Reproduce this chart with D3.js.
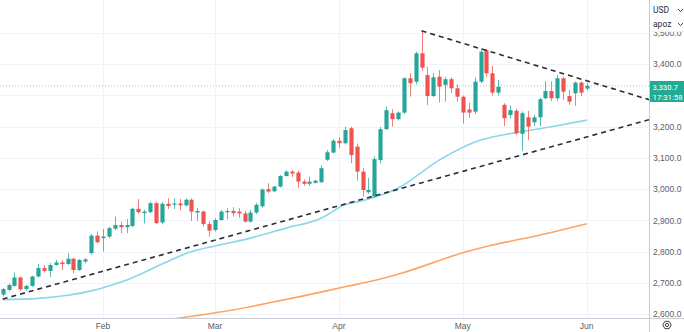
<!DOCTYPE html>
<html>
<head>
<meta charset="utf-8">
<script src="https://cdn.jsdelivr.net/npm/d3@7"></script>
<style>
  html, body { margin: 0; padding: 0; background: #ffffff; }
  svg { display: block; font-family: Roboto, "Liberation Sans", Arial, sans-serif; }
</style>
</head>
<body>
<svg id="chart" width="684" height="332"></svg>
<script>
// Daily sessions, 8 Jan – 2 Jun 2025
const dates = [
  "2025-01-08","2025-01-09","2025-01-10","2025-01-13","2025-01-14","2025-01-15","2025-01-16","2025-01-17",
  "2025-01-21","2025-01-22","2025-01-23","2025-01-24","2025-01-27","2025-01-28","2025-01-29","2025-01-30","2025-01-31",
  "2025-02-03","2025-02-04","2025-02-05","2025-02-06","2025-02-07","2025-02-10","2025-02-11","2025-02-12","2025-02-13",
  "2025-02-14","2025-02-18","2025-02-19","2025-02-20","2025-02-21","2025-02-24","2025-02-25","2025-02-26","2025-02-27","2025-02-28",
  "2025-03-03","2025-03-04","2025-03-05","2025-03-06","2025-03-07","2025-03-10","2025-03-11","2025-03-12","2025-03-13","2025-03-14",
  "2025-03-17","2025-03-18","2025-03-19","2025-03-20","2025-03-21","2025-03-24","2025-03-25","2025-03-26","2025-03-27","2025-03-28","2025-03-31",
  "2025-04-01","2025-04-02","2025-04-03","2025-04-04","2025-04-07","2025-04-08","2025-04-09","2025-04-10","2025-04-11",
  "2025-04-14","2025-04-15","2025-04-16","2025-04-17","2025-04-21","2025-04-22","2025-04-23","2025-04-24","2025-04-25",
  "2025-04-28","2025-04-29","2025-04-30",
  "2025-05-01","2025-05-02","2025-05-05","2025-05-06","2025-05-07","2025-05-08","2025-05-09","2025-05-12","2025-05-13",
  "2025-05-14","2025-05-15","2025-05-16","2025-05-19","2025-05-20","2025-05-21","2025-05-22","2025-05-23",
  "2025-05-27","2025-05-28","2025-05-29","2025-05-30",
  "2025-06-02"
];

const open = [
  2662,2677,2690,2717,2680,2690,2720,2747,2738,2757,2765,2760,2777,2741,2768,2795,2851,
  2843,2848,2873,2885,2878,2882,2937,2923,2926,2955,2893,2953,2950,2954,2948,2966,2925,2928,2888,
  2869,2901,2926,2930,2928,2922,2896,2925,2945,3000,2993,3008,3042,3056,3053,3024,3017,3020,3022,3094,3117,
  3155,3147,3195,3136,3056,2990,2976,3093,3192,3243,3224,3245,3355,3344,3435,3365,3298,3360,3334,3352,3323,
  3296,3255,3248,3344,3445,3371,3309,3270,3237,3251,3177,3230,3214,3230,3291,3314,3291,3355,3298,3307,3341,
  3322
];
const high = [
  2684,2697,2733,2720,2693,2723,2761,2757,2763,2773,2773,2795,2780,2776,2779,2856,2864,
  2872,2880,2912,2896,2904,2940,2968,2934,2960,2960,2958,2971,2971,2969,2971,2970,2939,2932,2896,
  2907,2933,2939,2942,2939,2930,2933,2955,3002,3019,3011,3045,3060,3062,3059,3031,3040,3030,3076,3126,3160,
  3166,3200,3200,3146,3067,3035,3105,3200,3264,3256,3248,3358,3371,3440,3507,3392,3372,3381,3360,3358,3335,
  3300,3277,3358,3450,3448,3395,3350,3275,3268,3257,3249,3251,3238,3293,3345,3345,3366,3360,3318,3345,3345,
  3340
];
const low = [
  2656,2672,2688,2675,2674,2687,2717,2733,2718,2755,2741,2757,2730,2738,2762,2790,2826,
  2800,2842,2868,2859,2859,2878,2922,2890,2923,2888,2887,2936,2936,2932,2944,2898,2898,2880,2848,
  2864,2899,2903,2912,2909,2893,2893,2920,2940,2987,2990,3005,3040,3038,3003,3011,3010,3018,3020,3090,3115,
  3131,3143,3083,3027,2976,2985,2972,3082,3190,3200,3220,3240,3296,3335,3378,3269,3295,3277,3280,3308,3280,
  3210,3228,3240,3340,3360,3300,3300,3202,3226,3173,3123,3157,3202,3202,3288,3282,3282,3285,3270,3267,3297,
  3316
];
const close = [
  2680,2693,2717,2679,2690,2720,2747,2738,2757,2765,2760,2777,2741,2773,2775,2851,2830,
  2848,2875,2885,2878,2885,2937,2926,2928,2955,2891,2953,2946,2954,2948,2966,2928,2930,2888,2867,
  2901,2928,2930,2923,2922,2896,2925,2950,2999,2992,3008,3042,3056,3050,3024,3017,3024,3027,3067,3118,3155,
  3147,3189,3109,3056,2997,2997,3096,3192,3253,3224,3245,3355,3339,3435,3389,3298,3358,3328,3352,3323,3296,
  3245,3245,3344,3440,3371,3309,3328,3227,3253,3179,3243,3200,3230,3288,3314,3291,3355,3312,3280,3341,3309,
  3330.7
];

// Moving averages, read at selected sessions
const smaFastDates  = ["2025-01-08","2025-01-16","2025-01-24","2025-01-30","2025-02-04","2025-02-10","2025-02-18","2025-02-25","2025-03-03","2025-03-11","2025-03-19","2025-03-27","2025-04-02","2025-04-07","2025-04-15","2025-04-25","2025-05-06","2025-05-14","2025-05-22","2025-06-02"];
const smaFastValues = [2646,2650,2660,2674,2690,2716,2760,2800,2818,2843,2875,2907,2950,2963,3003,3093,3157,3181,3200,3221];
const smaSlowDates  = ["2025-02-20","2025-03-06","2025-03-14","2025-03-24","2025-04-02","2025-04-09","2025-04-16","2025-05-01","2025-05-08","2025-05-16","2025-06-02"];
const smaSlowValues = [2585,2613,2635,2658,2687,2707,2733,2796,2821,2844,2889];

// Trend lines (two anchors each, extended to the right edge)
const supportDates  = ["2025-01-08","2025-06-02"];
const supportPrices = [2648, 3167];
const resistDates   = ["2025-04-22","2025-06-02"];
const resistPrices  = [3507, 3347];

const priceTicks = [2600,2700,2800,2900,3000,3100,3200,3300,3400,3500];
const monthTicks = ["2025-02-03","2025-03-03","2025-04-01","2025-05-01","2025-06-02"];
const lastPrice = 3330.7;
const countdown = "17:31:58";
const currency = "USD";
const unit = "apoz";

// ---- layout ----
const W = 684, H = 332;
const paneRight = 649, paneBottom = 318;
const UP = "#26a69a", DOWN = "#ef5350";
const GRID = "#f0f3fa", AXIS = "#c9ccd3", TEXT = "#5a5d68";

const svg = d3.select("#chart");
svg.append("rect").attr("width", W).attr("height", H).attr("fill", "#fff");

const bars = dates.map((d, i) => ({ d, o: open[i], h: high[i], l: low[i], c: close[i] }));
const idx = new Map(dates.map((d, i) => [d, i]));

const x = d3.scaleBand().domain(dates).range([-0.25, 589.65]).paddingInner(0).paddingOuter(0);
const cx = d => x(d) + x.bandwidth() / 2;
const xi = d3.scaleLinear().domain([0, dates.length - 1]).range([cx(dates[0]), cx(dates[dates.length - 1])]);
const y = d3.scaleLinear().domain([2600, 3500]).range([314, 33]);

svg.append("defs").append("clipPath").attr("id", "pane")
  .append("rect").attr("x", 0).attr("y", 0).attr("width", paneRight).attr("height", paneBottom);

const pane = svg.append("g").attr("clip-path", "url(#pane)");

// grid
pane.append("g").selectAll("line").data(priceTicks).join("line")
  .attr("x1", 0).attr("x2", paneRight)
  .attr("y1", d => Math.round(y(d)) + 0.5).attr("y2", d => Math.round(y(d)) + 0.5)
  .attr("stroke", GRID).attr("stroke-width", 1);
pane.append("g").selectAll("line").data(monthTicks).join("line")
  .attr("x1", d => Math.round(cx(d)) + 0.5).attr("x2", d => Math.round(cx(d)) + 0.5)
  .attr("y1", 0).attr("y2", paneBottom)
  .attr("stroke", GRID).attr("stroke-width", 1);

// last price line
pane.append("line")
  .attr("x1", 0).attr("x2", paneRight)
  .attr("y1", y(lastPrice)).attr("y2", y(lastPrice))
  .attr("stroke", UP).attr("stroke-opacity", 0.55).attr("stroke-width", 1).attr("stroke-dasharray", "1,2");

// moving averages
const maLine = d3.line().x(p => xi(idx.get(p[0]))).y(p => y(p[1])).curve(d3.curveMonotoneX);
pane.append("path").datum(d3.zip(smaSlowDates, smaSlowValues))
  .attr("d", maLine).attr("fill", "none").attr("stroke", "#ffa463").attr("stroke-width", 1.6);
pane.append("path").datum(d3.zip(smaFastDates, smaFastValues))
  .attr("d", maLine).attr("fill", "none").attr("stroke", "#86d9ea").attr("stroke-width", 1.6);

// candles
const bodyW = Math.max(1, x.bandwidth() * 0.7);
const cg = pane.append("g").selectAll("g").data(bars).join("g");
cg.append("line")
  .attr("x1", b => Math.round(cx(b.d)) + 0.5).attr("x2", b => Math.round(cx(b.d)) + 0.5)
  .attr("y1", b => y(b.h)).attr("y2", b => y(b.l))
  .attr("stroke", b => b.c >= b.o ? UP : DOWN).attr("stroke-opacity", 0.75).attr("stroke-width", 1);
cg.append("rect")
  .attr("x", b => Math.round(cx(b.d)) + 0.5 - bodyW / 2)
  .attr("width", bodyW)
  .attr("y", b => y(Math.max(b.o, b.c)))
  .attr("height", b => Math.max(1, Math.abs(y(b.o) - y(b.c))))
  .attr("fill", b => b.c >= b.o ? UP : DOWN);

// trend lines, extended as rays to the price scale
function ray(ds, ps) {
  const i0 = idx.get(ds[0]), i1 = idx.get(ds[1]);
  const slope = (ps[1] - ps[0]) / (i1 - i0);
  const iEnd = xi.invert(paneRight);
  return [[xi(i0), y(ps[0])], [paneRight, y(ps[0] + slope * (iEnd - i0))]];
}
[[supportDates, supportPrices], [resistDates, resistPrices]].forEach(([ds, ps]) => {
  pane.append("path").datum(ray(ds, ps))
    .attr("d", d3.line())
    .attr("fill", "none").attr("stroke", "#2a2e39").attr("stroke-width", 1.6)
    .attr("stroke-dasharray", "5,4");
});

// ---- axes ----
// labels that would sit under the last-price tag are left out, as the price scale does
const tagTop = Math.round(y(lastPrice)) - 5, tagH = 21;
const visibleTicks = priceTicks.filter(p => y(p) + 4 < tagTop || y(p) - 4 > tagTop + tagH);
const yAxis = d3.axisRight(y).tickValues(visibleTicks).tickFormat(d3.format(",.1f")).tickSize(0).tickPadding(4);
const ya = svg.append("g").attr("transform", `translate(${paneRight},0)`).call(yAxis);
ya.select(".domain").remove();
ya.selectAll("text").attr("fill", TEXT).attr("font-size", 8.5);

const parse = d3.timeParse("%Y-%m-%d");
const xAxis = d3.axisBottom(x).tickValues(monthTicks).tickFormat(d => d3.timeFormat("%b")(parse(d))).tickSize(0).tickPadding(5);
const xa = svg.append("g").attr("transform", `translate(0,${paneBottom})`).call(xAxis);
xa.select(".domain").remove();
xa.selectAll("text").attr("fill", TEXT).attr("font-size", 8.5);

svg.append("line").attr("x1", 0).attr("x2", W).attr("y1", paneBottom + 0.5).attr("y2", paneBottom + 0.5)
  .attr("stroke", AXIS).attr("stroke-width", 1);
svg.append("line").attr("x1", paneRight + 0.5).attr("x2", paneRight + 0.5).attr("y1", 0).attr("y2", H)
  .attr("stroke", AXIS).attr("stroke-width", 1);

// currency / unit selector
const sel = svg.append("g");
sel.append("rect").attr("x", paneRight + 1).attr("y", 0).attr("width", W - paneRight - 1).attr("height", 31)
  .attr("fill", "#fff");
sel.append("line").attr("x1", paneRight + 1).attr("x2", W).attr("y1", 31.5).attr("y2", 31.5).attr("stroke", "#eef0f4");
[[currency, 13], [unit, 27]].forEach(([t, yy]) => {
  sel.append("text").attr("x", 653).attr("y", yy).attr("font-size", 8.5).attr("fill", "#2a2e39").text(t);
  sel.append("path").attr("d", `M678,${yy - 4} l2.5,2.5 l2.5,-2.5`).attr("fill", "none").attr("stroke", "#2a2e39").attr("stroke-width", 0.9);
});

// last price tag
const tag = svg.append("g").attr("transform", `translate(${paneRight + 1},${tagTop})`);
tag.append("rect").attr("width", W - paneRight - 1).attr("height", tagH).attr("fill", "#22ab94");
tag.append("text").attr("x", 2.5).attr("y", 8.8).attr("font-size", 7.8).attr("fill", "#fff").text(d3.format(",.1f")(lastPrice));
tag.append("text").attr("x", 2.5).attr("y", 18.6).attr("font-size", 7.8).attr("fill", "#fff").text(countdown);

// settings button
const gear = svg.append("g").attr("transform", "translate(667,325)");
const hex = d3.range(6).map(k => [4.2 * Math.cos(Math.PI / 3 * k), 4.2 * Math.sin(Math.PI / 3 * k)]);
gear.append("path").attr("d", "M" + hex.join("L") + "Z").attr("fill", "none").attr("stroke", "#2a2e39").attr("stroke-width", 0.9);
gear.append("circle").attr("r", 1.6).attr("fill", "none").attr("stroke", "#2a2e39").attr("stroke-width", 0.9);
</script>
</body>
</html>
